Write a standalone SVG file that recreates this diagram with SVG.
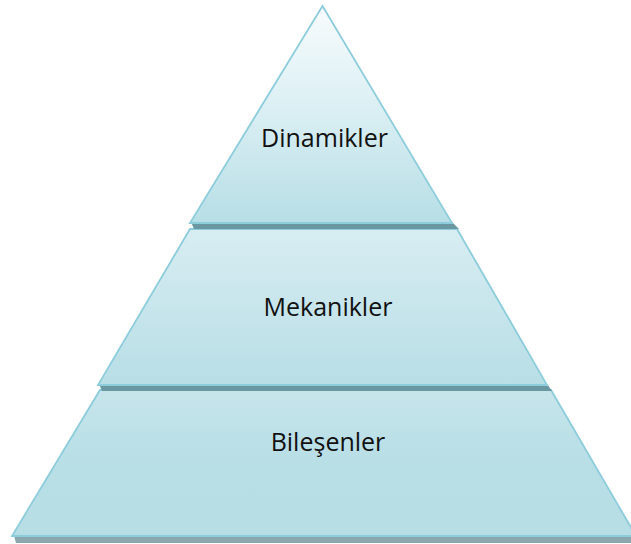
<svg xmlns="http://www.w3.org/2000/svg" width="631" height="544" viewBox="0 0 631 544">
<style>
.seg{stroke:#8dcddb;stroke-width:1.8;stroke-linejoin:miter}
.sh{fill:#6a98a2}
.lbl{font-family:"Open Sans","Liberation Sans",sans-serif;font-size:25px;fill:#111;text-anchor:middle}
</style>
<defs>
<linearGradient id="gTop" x1="0" y1="0" x2="0" y2="1">
<stop offset="0" stop-color="#f8fbfd"/>
<stop offset="0.45" stop-color="#dcf0f4"/>
<stop offset="1" stop-color="#b7dee6"/>
</linearGradient>
<linearGradient id="gMid" x1="0" y1="0" x2="0" y2="1">
<stop offset="0" stop-color="#d7edf2"/>
<stop offset="1" stop-color="#b8dee6"/>
</linearGradient>
<linearGradient id="gBot" x1="0" y1="0" x2="0" y2="1">
<stop offset="0" stop-color="#c6e5eb"/>
<stop offset="0.5" stop-color="#b8dee6"/>
<stop offset="1" stop-color="#b7dde5"/>
</linearGradient>
</defs>
<rect width="631" height="544" fill="#ffffff"/>
<g id="bilesenler">
<polygon class="sh" style="fill:#8ba7ad" points="14,536 636,536 636,543 16,543"/>
<polygon class="seg" fill="url(#gBot)" points="100,390 551,390 636,536 12,536"/>
<text class="lbl" x="328" y="451">Bileşenler</text>
</g>
<g id="mekanikler">
<polygon class="sh" points="99,384 547,384 552,391 102,391"/>
<polygon class="seg" fill="url(#gMid)" points="190,229 457,229 547,385 98,385"/>
<text class="lbl" x="328" y="316">Mekanikler</text>
</g>
<g id="dinamikler">
<polygon class="sh" points="191,222 452,222 459,229 194,229"/>
<polygon class="seg" fill="url(#gTop)" points="322.5,6 190,223 452,223"/>
<text class="lbl" x="324.5" y="147">Dinamikler</text>
</g>
</svg>
